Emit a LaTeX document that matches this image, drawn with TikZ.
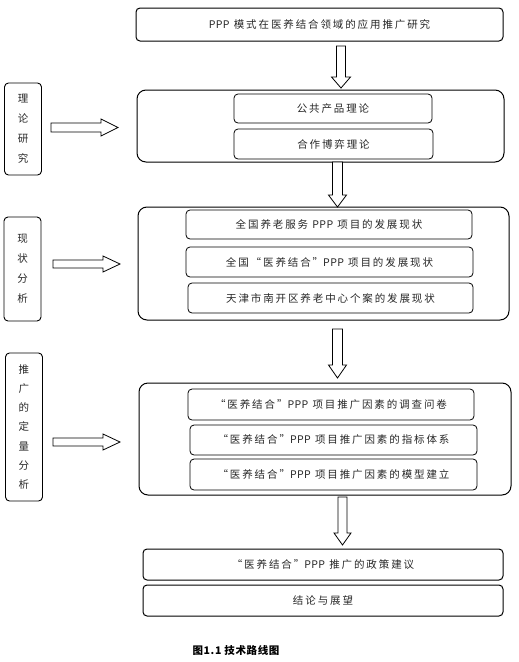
\documentclass[tikz,border=0pt]{standalone}
\usepackage{fontspec}
\newfontfamily\cjk{Noto Sans CJK SC}[LetterSpace=18]
\newfontfamily\cjkcap{Noto Sans CJK SC}[LetterSpace=6]
\newfontfamily\latn{Noto Sans CJK SC}[LetterSpace=4]
\newcommand{\ppp}{{\latn PPP}}
\tikzset{
  box/.style={draw, rounded corners=4pt, line width=.8pt, inner sep=0pt, text=black!85,
    font=\cjk\fontsize{10.5}{12}\selectfont},
  group/.style={draw, rounded corners=9pt, line width=1pt, inner sep=0pt},
  sidebox/.style={draw, rounded corners=4pt, line width=.9pt, inner sep=0pt, align=center,
    text=black!85, minimum width=37pt},
  blockarrow/.style={draw, line width=.8pt, fill=white, line join=miter},
}
\begin{document}
\begin{tikzpicture}[x=1pt,y=-1pt]
\useasboundingbox (0,0) rectangle (519,662);
% top
\node[box, line width=1pt, minimum width=367pt, minimum height=33pt] (top) at (319.5,24.5) {\ppp{} 模式在医养结合领域的应用推广研究};
% theory
\node[group, minimum width=367pt, minimum height=72pt] (g1) at (320.5,126) {};
\node[box, minimum width=198pt, minimum height=29pt] (t1) at (333,108.5) {公共产品理论};
\node[box, minimum width=199pt, minimum height=30pt] (t2) at (333.5,144) {合作博弈理论};
\node[sidebox, minimum height=92pt, font=\cjk\fontsize{10.5}{20}\selectfont] (l1) at (23,129) {理\\论\\研\\究};
% status
\node[group, minimum width=371pt, minimum height=113pt] (g2) at (323.5,263.5) {};
\node[box, minimum width=286pt, minimum height=29pt] (s1) at (329,224.5) {全国养老服务 \ppp{} 项目的发展现状};
\node[box, minimum width=287pt, minimum height=30pt] (s2) at (329.5,262) {全国“医养结合”\ppp{} 项目的发展现状};
\node[box, minimum width=285pt, minimum height=30pt] (s3) at (330.5,298) {天津市南开区养老中心个案的发展现状};
\node[sidebox, minimum height=104pt, font=\cjk\fontsize{10.5}{20}\selectfont] (l2) at (22.5,269) {现\\状\\分\\析};
% quantitative
\node[group, minimum width=372pt, minimum height=112pt] (g3) at (325,439) {};
\node[box, minimum width=286pt, minimum height=31pt] (q1) at (331,404.5) {“医养结合”\ppp{} 项目推广因素的调查问卷};
\node[box, minimum width=287pt, minimum height=30pt] (q2) at (333.5,440) {“医养结合”\ppp{} 项目推广因素的指标体系};
\node[box, minimum width=287pt, minimum height=31pt] (q3) at (333.5,474.5) {“医养结合”\ppp{} 项目推广因素的模型建立};
\node[sidebox, minimum height=148pt, font=\cjk\fontsize{10.5}{19.3}\selectfont] (l3) at (24,427) {推\\广\\的\\定\\量\\分\\析};
% policy
\node[box, line width=1pt, minimum width=360pt, minimum height=31pt] (p1) at (323,564.5) {“医养结合”\ppp{} 推广的政策建议};
\node[box, line width=1pt, minimum width=360pt, minimum height=31pt] (p2) at (323,600.5) {结论与展望};
\node[font=\cjkcap\bfseries\fontsize{10.5}{12}\selectfont] (cap) at (236,650) {图1.1 技术路线图};
% arrows
\coordinate (d1) at (341,46);
\coordinate (d2) at (337.5,162);
\coordinate (d3) at (337.5,329);
\coordinate (d4) at (342.5,497);
\draw[blockarrow] (d1) ++(-4.5,0) -- ++(0,31) -- ++(-5,0) -- ++(9.5,11) -- ++(9.5,-11) -- ++(-5,0) -- ++(0,-31) -- cycle;
\draw[blockarrow] (d2) ++(-5,0) -- ++(0,33) -- ++(-4,0) -- ++(9,12) -- ++(9,-12) -- ++(-4,0) -- ++(0,-33) -- cycle;
\draw[blockarrow] (d3) ++(-5,0) -- ++(0,36) -- ++(-4,0) -- ++(9,13) -- ++(9,-13) -- ++(-4,0) -- ++(0,-36) -- cycle;
\draw[blockarrow] (d4) ++(-4.5,0) -- ++(0,36) -- ++(-4,0) -- ++(8.5,12) -- ++(8.5,-12) -- ++(-4,0) -- ++(0,-36) -- cycle;
\coordinate (r1) at (51,127.5);
\coordinate (r2) at (53,264);
\coordinate (r3) at (53,442);
\draw[blockarrow] (r1) ++(0,-4.5) -- ++(50,0) -- ++(0,-4) -- ++(17,8.5) -- ++(-17,8.5) -- ++(0,-4) -- ++(-50,0) -- cycle;
\draw[blockarrow] (r2) ++(0,-4) -- ++(50,0) -- ++(0,-4) -- ++(17,8) -- ++(-17,8) -- ++(0,-4) -- ++(-50,0) -- cycle;
\draw[blockarrow] (r3) ++(0,-4) -- ++(50,0) -- ++(0,-4) -- ++(17,8) -- ++(-17,8) -- ++(0,-4) -- ++(-50,0) -- cycle;
\end{tikzpicture}
\end{document}
